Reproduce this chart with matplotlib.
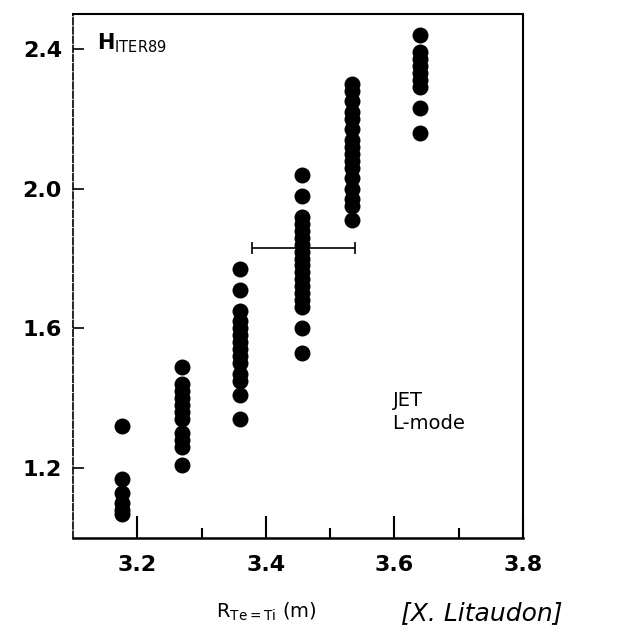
import matplotlib.pyplot as plt
import numpy as np

# H_ITER89 values per radial column
r_cols = [3.177, 3.270, 3.360, 3.456, 3.534, 3.640]
h_cols = [
    [1.32, 1.17, 1.13, 1.10, 1.08, 1.07],
    [1.49, 1.44, 1.42, 1.40, 1.38, 1.36, 1.34, 1.30, 1.28, 1.26, 1.21],
    [1.77, 1.71, 1.65, 1.62, 1.60, 1.58, 1.56, 1.54, 1.52, 1.50, 1.47,
     1.45, 1.41, 1.34],
    [2.04, 1.98, 1.92, 1.90, 1.88, 1.86, 1.84, 1.82, 1.80, 1.78, 1.76,
     1.74, 1.72, 1.70, 1.68, 1.66, 1.60, 1.53],
    [2.30, 2.28, 2.25, 2.22, 2.20, 2.17, 2.14, 2.12, 2.10, 2.08, 2.06,
     2.03, 2.00, 1.97, 1.95, 1.91],
    [2.44, 2.39, 2.37, 2.35, 2.33, 2.31, 2.29, 2.23, 2.16],
]

# horizontal error bar
err_x = 3.458
err_y = 1.83
err_dx = 0.08

x_ticks = [3.2, 3.4, 3.6, 3.8]
y_ticks = [1.2, 1.6, 2.0, 2.4]

fig = plt.figure(figsize=(6.26, 6.34), dpi=100)
ax = fig.add_axes([0.1166, 0.1514, 0.7189, 0.8266])

for r, hs in zip(r_cols, h_cols):
    ax.plot(np.full(len(hs), r), hs, 'o', color='black', markersize=11.5,
            markeredgewidth=0, clip_on=False)

ax.errorbar(err_x, err_y, xerr=err_dx, fmt='none', ecolor='black',
            elinewidth=1.2, capsize=4, capthick=1.2)

ax.set_xlim(3.1, 3.8)
ax.set_ylim(1.0, 2.5)
ax.set_xticks(x_ticks)
ax.set_xticklabels(['3.2', '3.4', '3.6', '3.8'])
ax.set_xticks([3.3, 3.5, 3.7], minor=True)
ax.set_yticks(y_ticks)
ax.set_yticklabels(['1.2', '1.6', '2.0', '2.4'])

ax.tick_params(axis='x', which='major', direction='in', length=16, width=1.5,
               pad=12, labelsize=16)
ax.tick_params(axis='x', which='minor', direction='in', length=7, width=1.5)
ax.tick_params(axis='y', which='major', direction='in', length=8, width=1.2,
               pad=8, labelsize=16)
for lab in ax.get_xticklabels() + ax.get_yticklabels():
    lab.set_fontweight('bold')

ax.spines['bottom'].set_linewidth(1.8)
ax.spines['left'].set_linewidth(1.2)
ax.spines['left'].set_linestyle((0, (4, 1.5)))
ax.spines['top'].set_linewidth(1.5)
ax.spines['top'].set_linestyle((0, (1, 1)))
ax.spines['right'].set_linewidth(1.5)
ax.spines['right'].set_linestyle((0, (1, 1)))

ax.text(0.053, 0.945, r'H$_{\rm ITER89}$', transform=ax.transAxes,
        fontsize=15, fontweight='bold', va='center', ha='left')
ax.text(0.71, 0.24, 'JET\nL-mode', transform=ax.transAxes,
        fontsize=14, va='center', ha='left', linespacing=1.3)

fig.text(0.345, 0.035, r'R$_{\rm Te=Ti}$ (m)', fontsize=14, ha='left',
         va='center')
fig.text(0.64, 0.033, '[X. Litaudon]', fontsize=18, ha='left', va='center',
         style='italic')

fig.savefig('out.png', dpi=100)
